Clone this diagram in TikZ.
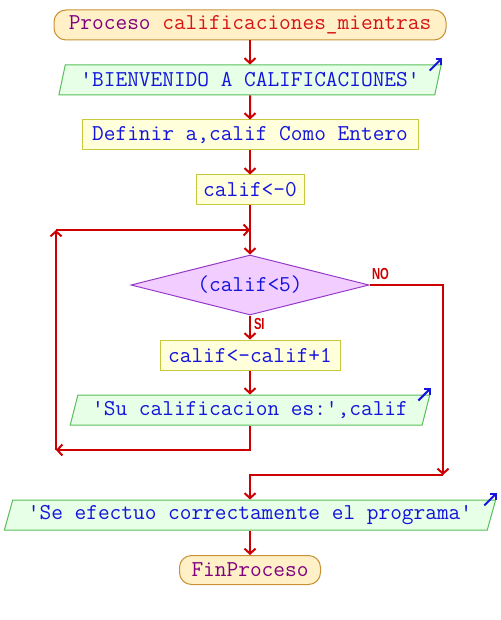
\documentclass[tikz,border=0pt]{standalone}
\usepackage{fontspec}
\setsansfont{Liberation Sans}
\usetikzlibrary{shapes.geometric,arrows.meta}
\definecolor{flowred}{RGB}{204,0,0}
\definecolor{txtblue}{RGB}{20,20,220}
\definecolor{txtpurple}{RGB}{128,0,128}
\definecolor{txtred}{RGB}{215,20,20}
\definecolor{termfill}{RGB}{255,240,200}
\definecolor{termdraw}{RGB}{200,145,50}
\definecolor{iofill}{RGB}{230,255,230}
\definecolor{iodraw}{RGB}{90,190,90}
\definecolor{procfill}{RGB}{255,255,220}
\definecolor{procdraw}{RGB}{200,200,60}
\definecolor{decfill}{RGB}{242,205,255}
\definecolor{decdraw}{RGB}{150,60,200}
\tikzset{%
  basenode/.style = {draw, line width=1pt, inner sep=0pt, align=center,%
                     font=\ttfamily\fontsize{22.7}{23}\selectfont, text=txtblue},%
  term/.style     = {basenode, rectangle, rounded corners=12pt,%
                     fill=termfill, draw=termdraw, text=txtpurple},%
  inout/.style    = {basenode, trapezium, trapezium left angle=68,%
                     trapezium right angle=112, trapezium stretches=true,%
                     fill=iofill, draw=iodraw},%
  proc/.style     = {basenode, rectangle, fill=procfill, draw=procdraw},%
  cond/.style     = {basenode, diamond, aspect=4, fill=decfill, draw=decdraw},%
  flow/.style     = {draw=flowred, line width=2pt,%
                     -{Straight Barb[length=5pt,width=11pt]}},%
  outmark/.style  = {draw=txtblue, line width=2pt,%
                     -{Straight Barb[length=4pt,width=8pt]}}%
}
\begin{document}
\begin{tikzpicture}[x=1pt,y=-1pt,
		sino/.style={text=flowred, inner sep=1.5pt,
			font=\sffamily\bfseries\fontsize{16}{16}\selectfont}]
		\fill[white] (0,0) rectangle (500,620);
		\useasboundingbox (0,0) rectangle (500,620);
		\node[term, minimum width=392pt, minimum height=30pt] (ini) at (250,25)
			{Proceso \textcolor{txtred}{calificaciones\_mientras}};
		\node[inout, minimum width=384pt, minimum height=30pt] (msg1) at (250,80)
			{'BIENVENIDO A CALIFICACIONES'};
		\node[proc, minimum width=336pt, minimum height=30pt] (def) at (250,135)
			{Definir a,calif Como Entero};
		\node[proc, minimum width=108pt, minimum height=30pt] (cero) at (250,190) {calif<-0};
		\node[cond, minimum width=238pt, minimum height=60pt] (cond) at (250,285) {(calif<5)};
		\node[proc, minimum width=180pt, minimum height=30pt] (inc) at (250,355) {calif<-calif+1};
		\node[inout, minimum width=361pt, minimum height=30pt] (msg2) at (250,410)
			{'Su calificacion es:',calif};
		\node[inout, minimum width=493pt, minimum height=30pt] (msg3) at (250,515)
			{'Se efectuo correctamente el programa'};
		\node[term, minimum width=141pt, minimum height=29pt] (fin) at (250,570) {FinProceso};
		\coordinate (join) at (250,230);
		\coordinate (looptl) at (56,230);
		\coordinate (loopbl) at (56,450);
		\coordinate (nobr) at (443,475);
		\draw[flow] (ini) -- (msg1);
		\draw[flow] (msg1) -- (def);
		\draw[flow] (def) -- (cero);
		\draw[flow] (cero.south) -- (cond.north);
		\draw[flow] (cond.south) -- node[sino, pos=0, anchor=north west, xshift=1.5pt]
			{\scalebox{.7}[1]{SI}} (inc.north);
		\draw[flow] (inc) -- (msg2);
		\draw[flow] (msg2.south) |- (loopbl);
		\draw[flow] (loopbl) -- (looptl);
		\draw[flow] (looptl) -- (join);
		\draw[flow] (cond.east) -| node[sino, pos=0, anchor=south west, yshift=2.5pt]
			{\scalebox{.7}[1]{NO}} (nobr);
		\draw[flow] (nobr) -| (msg3.north);
		\draw[flow] (msg3) -- (fin);
		\foreach \m in {msg1,msg2,msg3}
			\draw[outmark] ([shift={(-12,6)}]\m.top right corner) -- ++(12.5,-12.5);
		\end{tikzpicture}
\end{document}
